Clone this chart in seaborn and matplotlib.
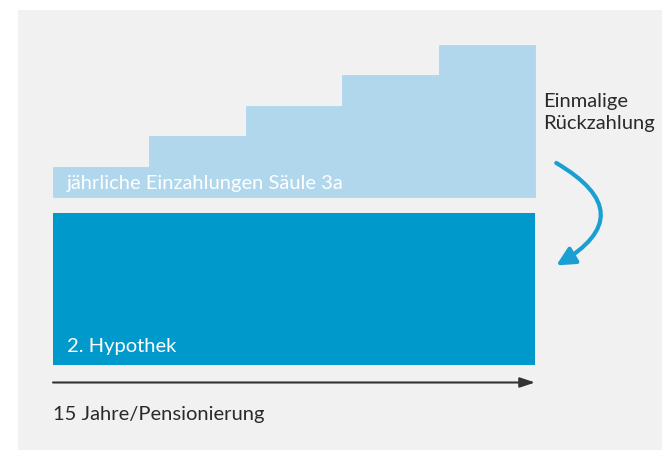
import matplotlib
matplotlib.use("Agg")
import matplotlib.pyplot as plt
import seaborn as sns

# Data
jahre = ["1", "2", "3", "4", "5"]
einzahlungen = [1, 2, 3, 4, 5]
hypothek = 5

label_saeule = "jährliche Einzahlungen Säule 3a"
label_hypothek = "2. Hypothek"
label_rueck = "Einmalige\nRückzahlung"
label_zeit = "15 Jahre/Pensionierung"

light_blue = "#b1d7ed"
dark_blue = "#0099cc"
panel_grey = "#f1f1f1"
text_grey = "#2a2a2a"

sns.set_style("white")
plt.rcParams["font.family"] = ["Lato", "DejaVu Sans"]

fig = plt.figure(figsize=(6.72, 4.51), dpi=100)
ax = fig.add_axes([18 / 672, 1 / 451, 644 / 672, 440 / 451])
ax.set_facecolor(panel_grey)

# stepped yearly contributions
sns.barplot(x=jahre, y=einzahlungen, width=1, color=light_blue,
            edgecolor=light_blue, linewidth=0.6, saturation=1, ax=ax)

# mortgage block below
ax.bar(2, hypothek, width=len(jahre), bottom=-hypothek - 0.53,
       color=dark_blue, linewidth=0)

ax.set_xlim(-0.863, 5.817)
ax.set_ylim(-8.32, 6.15)

fs = 14.5
ax.text(-0.355, 0.44, label_saeule, color="white", fontsize=fs,
        va="center", ha="left")
ax.text(-0.355, -4.93, label_hypothek, color="white", fontsize=fs,
        va="center", ha="left")
ax.text(4.58, 2.78, label_rueck, color=text_grey, fontsize=fs,
        va="center", ha="left", linespacing=1.3)
ax.text(-0.5, -7.16, label_zeit, color=text_grey, fontsize=fs,
        va="center", ha="left")

# time axis arrow
ax.annotate("", xy=(4.5, -6.1), xytext=(-0.5, -6.1),
            arrowprops=dict(arrowstyle="-|>,head_length=0.9,head_width=0.3",
                            color="#333333", lw=1.5, shrinkA=0, shrinkB=0))

# curved repayment arrow
ax.annotate("", xy=(4.72, -2.25), xytext=(4.72, 1.12),
            arrowprops=dict(arrowstyle="-|>,head_length=1.1,head_width=0.55",
                            connectionstyle="arc3,rad=-0.85",
                            color="#1a9fd3", lw=3.0, shrinkA=0, shrinkB=0))

ax.set_xticks([])
ax.set_yticks([])
ax.set_xlabel("")
ax.set_ylabel("")
for s in ax.spines.values():
    s.set_visible(False)

fig.savefig("out.png", dpi=100, facecolor="white")
